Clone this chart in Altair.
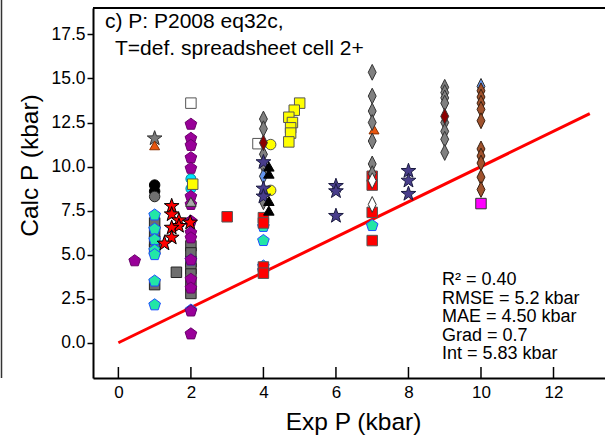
import altair as alt
import pandas as pd

# ---------------- data ----------------
line_x = [0, 13]
line_y = [0, 13]
tick_vals = [0, 2, 4, 6, 8, 10, 12]
y_tick_vals = [0, 2.5, 5, 7.5, 10, 12.5, 15, 17.5]

gray_sq_x = [1.0, 1.0, 1.0, 1.0, 1.0, 1.6, 2.0, 2.0, 2.0, 2.0, 2.0, 2.0, 2.0]
gray_sq_y = [6.8, 6.3, 5.75, 5.3, 3.3, 4.0, 5.5, 5.1, 4.6, 4.2, 3.9, 3.3, 2.8]

white_sq_x = [2.0, 3.85]
white_sq_y = [13.6, 11.3]

black_circ_x = [1.0, 1.0]
black_circ_y = [8.95, 8.6]

gray_circ_x = [1.0]
gray_circ_y = [8.3]

cyan_circ_x = [2.0, 2.0]
cyan_circ_y = [9.3, 8.75]

yellow_circ_x = [4.2, 4.2]
yellow_circ_y = [11.25, 8.65]

cyan_pent_x = [1.0, 1.0, 1.0, 1.0, 1.0, 1.0, 1.0, 2.0, 2.0, 4.0, 4.0, 4.0, 4.0, 7.0]
cyan_pent_y = [7.25, 6.45, 5.85, 5.25, 5.0, 3.5, 2.15, 4.7, 1.85, 6.6, 5.8, 4.35, 4.1, 6.65]

purple_pent_x = [0.45, 2.0, 2.0, 2.0, 2.0, 2.0, 2.0, 2.0, 2.0, 2.0, 2.0, 2.0, 2.0, 2.0, 2.0, 2.0]
purple_pent_y = [4.65, 12.4, 11.6, 11.2, 10.5, 9.9, 8.3, 7.85, 6.9, 6.25, 5.95, 4.7, 3.6, 3.1, 1.8, 0.5]

red_star_x = [1.47, 1.47, 1.67, 1.67, 1.47, 1.47, 1.27, 1.98]
red_star_y = [7.76, 7.29, 6.95, 6.63, 6.53, 5.97, 5.63, 6.82]

gray_star_x = [1.0]
gray_star_y = [11.6]

orange_tri_x = [1.0, 7.05]
orange_tri_y = [11.2, 12.1]

yellow_sq_x = [2.05, 5.0, 4.85, 4.7, 4.8, 4.75, 4.75, 4.7]
yellow_sq_y = [9.0, 13.6, 13.2, 12.8, 12.5, 12.2, 11.9, 11.4]

red_sq_x = [3.0, 4.0, 4.0, 4.0, 4.0, 7.0, 7.0, 7.0, 7.0]
red_sq_y = [7.15, 7.1, 6.8, 4.3, 3.95, 9.45, 8.95, 7.4, 5.8]

gray_dia_x = [4.0, 4.0, 4.0, 4.0, 4.0, 4.0,
              7.0, 7.0, 7.0, 7.0, 7.0, 7.0, 7.0,
              9.0, 9.0, 9.0, 9.0, 9.0, 9.0, 9.0, 9.0]
gray_dia_y = [12.7, 12.15, 10.7, 10.05, 8.4, 8.0,
              15.35, 14.0, 13.15, 12.5, 11.45, 10.15, 9.6,
              14.5, 14.2, 13.9, 13.6, 12.5, 12.0, 11.55, 10.8]

darkred_dia_x = [4.0, 9.0]
darkred_dia_y = [11.35, 12.85]

blue_dia_x = [4.0, 10.0]
blue_dia_y = [9.45, 14.55]

white_dia_x = [7.0, 7.0]
white_dia_y = [9.2, 7.85]

brown_dia_x = [10.0] * 10
brown_dia_y = [14.3, 13.95, 13.6, 13.25, 12.6, 11.0, 10.6, 10.2, 9.4, 8.7]

navy_star_x = [4.0, 4.0, 4.0, 6.0, 6.0, 6.0, 8.0, 8.0, 8.0]
navy_star_y = [10.25, 8.75, 8.3, 8.9, 8.6, 7.2, 9.75, 9.2, 8.45]

black_tri_x = [4.15, 4.15, 4.15, 4.15]
black_tri_y = [10.0, 9.6, 8.05, 7.5]

gray_tri_x = [2.0]
gray_tri_y = [8.0]

magenta_sq_x = [10.0]
magenta_sq_y = [7.9]

title_line1 = "c) P: P2008 eq32c,"
title_line2 = "T=def. spreadsheet cell 2+"
stats_lines = ["R\u00b2 = 0.40", "RMSE = 5.2 kbar", "MAE = 4.50 kbar", "Grad = 0.7", "Int = 5.83 kbar"]

# ---------------- styling ----------------
W, H = 512, 370
FONT = "Liberation Sans"
STAR = "M0,-1L0.235,-0.324L0.951,-0.309L0.38,0.124L0.588,0.809L0,0.4L-0.588,0.809L-0.38,0.124L-0.951,-0.309L-0.235,-0.324Z"
PENT = "M0,-1L0.951,-0.309L0.588,0.809L-0.588,0.809L-0.951,-0.309Z"
DIAM = "M0,-1L0.5,0L0,1L-0.5,0Z"

xscale = alt.Scale(domain=[-0.7, 13.42], nice=False, zero=False)
yscale = alt.Scale(domain=[-2, 19], nice=False, zero=False)

xaxis = alt.Axis(
    title="Exp P (kbar)", values=tick_vals, ticks=False, tickSize=0,
    labelPadding=6, labelFontSize=17, labelFont=FONT, labelColor="black",
    domainColor="black", domainWidth=2, grid=False,
    titleFontSize=24.5, titleFont=FONT, titleFontWeight="normal", titleColor="black",
    titleX=260, titleY=51, titleBaseline="alphabetic", titleAnchor="middle")
yaxis = alt.Axis(
    title="Calc P (kbar)", values=y_tick_vals, format=".1f", tickSize=6,
    tickColor="black", tickWidth=1.5, labelPadding=2, labelFontSize=17.5,
    labelFont=FONT, labelColor="black", domainColor="black", domainWidth=2,
    grid=False, titleFontSize=24.5, titleFont=FONT, titleFontWeight="normal",
    titleColor="black", titleX=-56, titleY=157, titleBaseline="alphabetic",
    titleAngle=-90)


def xenc(field):
    return alt.X(field, type="quantitative", scale=xscale, axis=xaxis)


def yenc(field):
    return alt.Y(field, type="quantitative", scale=yscale, axis=yaxis)


def pts(xs, ys, shape, fill, stroke, size, sw=1.0):
    df = pd.DataFrame({"x": xs, "y": ys})
    return alt.Chart(df).mark_point(
        shape=shape, filled=True, fill=fill, stroke=stroke, strokeWidth=sw,
        size=size, opacity=1, fillOpacity=1, strokeOpacity=1
    ).encode(x=xenc("x"), y=yenc("y"))


base = alt.Chart(pd.DataFrame({"x": line_x, "y": line_y})).mark_line(
    color="#ff0000", strokeWidth=3
).encode(x=xenc("x"), y=yenc("y"))

xticks = alt.Chart(pd.DataFrame({"x": tick_vals})).mark_rule(
    color="black", strokeWidth=1.5
).encode(x=xenc("x"), y=alt.value(H - 11), y2=alt.value(H))

top_border = alt.Chart(pd.DataFrame({"t": [0]})).mark_rule(
    color="black", strokeWidth=2
).encode(x=alt.value(0), x2=alt.value(W), y=alt.value(0))

left_edge = alt.Chart(pd.DataFrame({"t": [0]})).mark_rule(
    color="#333333", strokeWidth=1.5
).encode(x=alt.value(-91.5), y=alt.value(-8), y2=alt.value(H))

t1 = alt.Chart(pd.DataFrame({"t": [title_line1]})).mark_text(
    align="left", baseline="alphabetic", fontSize=21, font=FONT, color="black"
).encode(text="t:N", x=alt.value(12), y=alt.value(20))
t2 = alt.Chart(pd.DataFrame({"t": [title_line2]})).mark_text(
    align="left", baseline="alphabetic", fontSize=21, font=FONT, color="black"
).encode(text="t:N", x=alt.value(22), y=alt.value(47))

stats = alt.Chart(pd.DataFrame({"t": [0]})).mark_text(
    align="left", baseline="alphabetic", fontSize=18, font=FONT, color="black",
    text=stats_lines, lineHeight=18.5
).encode(x=alt.value(349), y=alt.value(277))

layers = [
    base,
    pts(gray_sq_x, gray_sq_y, "square", "#6e6e6e", "#222222", 110),
    pts(white_sq_x, white_sq_y, "square", "#ffffff", "#555555", 110),
    pts(black_circ_x, black_circ_y, "circle", "#000000", "#000000", 110),
    pts(gray_circ_x, gray_circ_y, "circle", "#707070", "#222222", 110),
    pts(cyan_circ_x, cyan_circ_y, "circle", "#00e5ff", "#008899", 100),
    pts(yellow_circ_x, yellow_circ_y, "circle", "#ffff00", "#555555", 110),
    pts(cyan_pent_x, cyan_pent_y, PENT, "#22e6a6", "#1f4fff", 150),
    pts(purple_pent_x, purple_pent_y, PENT, "#990099", "#6a006a", 150),
    pts(gray_tri_x, gray_tri_y, "triangle-up", "#a8a8a8", "#333333", 110),
    pts(red_star_x, red_star_y, STAR, "#ff0000", "#000000", 240),
    pts(gray_star_x, gray_star_y, STAR, "#7a7a7a", "#333333", 240),
    pts(orange_tri_x, orange_tri_y, "triangle-up", "#e8560f", "#8a3000", 100),
    pts(yellow_sq_x, yellow_sq_y, "square", "#ffff00", "#555555", 110),
    pts(red_sq_x, red_sq_y, "square", "#ff0000", "#555555", 110),
    pts(gray_dia_x, gray_dia_y, DIAM, "#808080", "#333333", 250),
    pts(darkred_dia_x, darkred_dia_y, DIAM, "#8b0000", "#333333", 250),
    pts(blue_dia_x, blue_dia_y, DIAM, "#6495ed", "#333333", 250),
    pts(white_dia_x, white_dia_y, DIAM, "#ffffff", "#333333", 250),
    pts(brown_dia_x, brown_dia_y, DIAM, "#a0522d", "#3a2010", 250),
    pts(navy_star_x, navy_star_y, STAR, "#483d8b", "#1a1a40", 240),
    pts(black_tri_x, black_tri_y, "triangle-up", "#000000", "#000000", 110),
    pts(magenta_sq_x, magenta_sq_y, "square", "#ff00ff", "#333333", 110),
    xticks, top_border, left_edge, t1, t2, stats,
]

chart = alt.layer(*layers).properties(
    width=W, height=H,
    autosize=alt.AutoSizeParams(type="none"),
    padding={"left": 93, "top": 8, "right": 0, "bottom": 57},
).configure_view(stroke=None).configure(background="white")

chart.save("out.html", embed_options={"renderer": "svg", "actions": False})
